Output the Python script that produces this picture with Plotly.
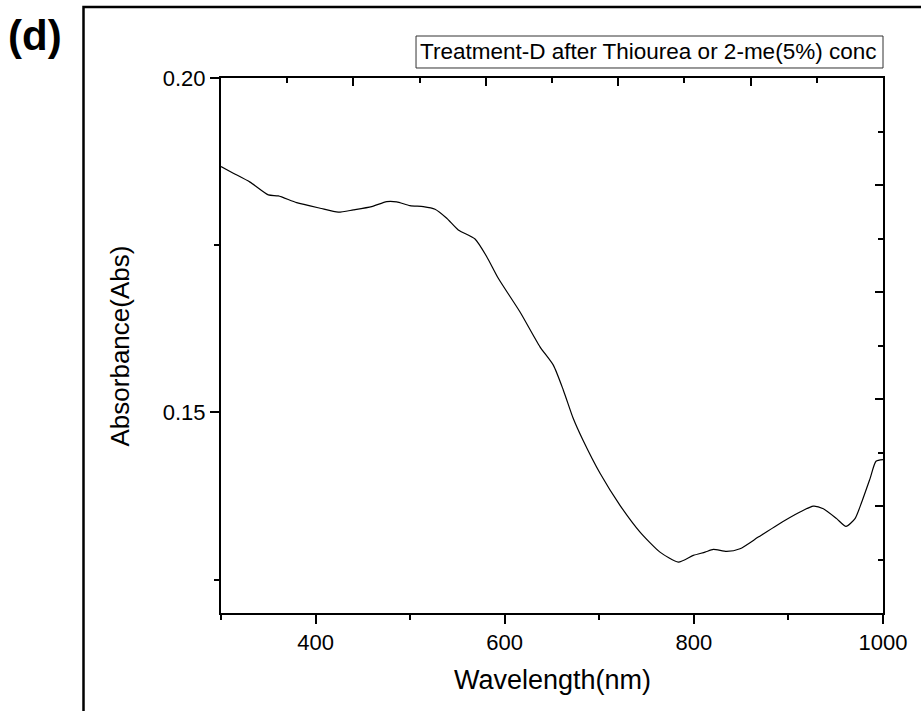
import plotly.graph_objects as go

# Data
wavelength_nm = [300.0, 313.0, 330.7, 350.0, 360.6, 380.0, 404.7, 424.0, 439.9, 459.3,
                 475.2, 485.8, 499.8, 513.9, 526.3, 538.7, 550.9, 568.6, 581.0, 593.2,
                 616.2, 637.3, 651.4, 662.0, 672.5, 682.8, 700.8, 721.9, 743.1, 764.2,
                 783.6, 799.4, 811.8, 820.6, 834.7, 848.8, 868.1, 887.6, 912.2, 926.3,
                 936.9, 951.0, 960.9, 970.4, 977.5, 986.3, 992.6, 1000.0]
absorbance = [0.18676, 0.18577, 0.18443, 0.18252, 0.18237, 0.18137, 0.18053, 0.17993, 0.18028, 0.18077,
              0.18152, 0.18148, 0.18092, 0.18077, 0.18038, 0.17903, 0.17728, 0.17593, 0.17328, 0.17005,
              0.16500, 0.15980, 0.15706, 0.15332, 0.14908, 0.14583, 0.14089, 0.13610, 0.13210, 0.12910,
              0.12761, 0.12861, 0.12910, 0.12951, 0.12921, 0.12961, 0.13135, 0.13310, 0.13509, 0.13599,
              0.13560, 0.13411, 0.13295, 0.13411, 0.13659, 0.14010, 0.14269, 0.14294]

x_tickvals = [400, 600, 800, 1000]
y_tickvals = [0.15, 0.20]
legend_text = "Treatment-D after Thiourea or 2-me(5%) conc"
x_title = "Wavelength(nm)"
y_title = "Absorbance(Abs)"
panel_label = "(d)"

FONT = "Liberation Sans, Arial, sans-serif"

fig = go.Figure()
fig.add_trace(go.Scatter(
    x=wavelength_nm, y=absorbance, mode="lines",
    line=dict(color="black", width=1.2, shape="spline", smoothing=0.6),
    showlegend=False, hoverinfo="skip",
))
# helper trace so that the mirrored (top/right) Origin-style axes are drawn
fig.add_trace(go.Scatter(x=[None], y=[None], xaxis="x2", yaxis="y2",
                         mode="lines", showlegend=False, hoverinfo="skip"))

tickfont = dict(family=FONT, size=22, color="black")

fig.update_layout(
    width=921, height=711,
    margin=dict(l=221, r=38, t=78, b=98),
    paper_bgcolor="white", plot_bgcolor="white",
    xaxis=dict(
        range=[300, 1000], tickmode="array", tickvals=x_tickvals,
        ticks="outside", ticklen=9, tickwidth=2, tickcolor="black",
        showline=True, linewidth=2, linecolor="black", mirror=False,
        showgrid=False, zeroline=False, tickfont=tickfont,
        minor=dict(tickmode="linear", tick0=300, dtick=100, ticks="outside",
                   ticklen=5, tickwidth=2, tickcolor="black", showgrid=False),
    ),
    yaxis=dict(
        range=[0.12, 0.20], tickmode="array", tickvals=y_tickvals, tickformat=".2f",
        ticks="outside", ticklen=9, tickwidth=2, tickcolor="black",
        showline=True, linewidth=2, linecolor="black", mirror=False,
        showgrid=False, zeroline=False, tickfont=tickfont,
        minor=dict(tickmode="linear", tick0=0.125, dtick=0.025, ticks="outside",
                   ticklen=5, tickwidth=2, tickcolor="black", showgrid=False),
    ),
    xaxis2=dict(
        overlaying="x", side="top", anchor="y2", range=[0, 10],
        tickmode="linear", tick0=0, dtick=2, ticks="inside", ticklen=8,
        tickwidth=2, tickcolor="black", showticklabels=False,
        showline=True, linewidth=2, linecolor="black",
        showgrid=False, zeroline=False,
        minor=dict(tickmode="linear", tick0=0, dtick=1, ticks="inside",
                   ticklen=5, tickwidth=2, tickcolor="black", showgrid=False),
    ),
    yaxis2=dict(
        overlaying="y", side="right", anchor="x2", range=[0, 10],
        tickmode="linear", tick0=0, dtick=2, ticks="inside", ticklen=8,
        tickwidth=2, tickcolor="black", showticklabels=False,
        showline=True, linewidth=2, linecolor="black",
        showgrid=False, zeroline=False,
        minor=dict(tickmode="linear", tick0=0, dtick=1, ticks="inside",
                   ticklen=5, tickwidth=2, tickcolor="black", showgrid=False),
    ),
)

# outer frame (extends beyond the image at right and bottom)
fig.add_shape(type="rect", xref="paper", yref="paper",
              x0=-0.2077, x1=1.2, y0=-0.4, y1=1.1327,
              line=dict(color="black", width=2.5), fillcolor="rgba(0,0,0,0)", layer="above")

# legend box
fig.add_shape(type="rect", xref="paper", yref="paper",
              x0=0.2946, x1=1.0, y0=1.0187, y1=1.0785,
              line=dict(color="#333333", width=1), fillcolor="white")
fig.add_annotation(xref="paper", yref="paper", x=0.2970, y=1.0486,
                   xanchor="left", yanchor="middle", showarrow=False,
                   text=legend_text, font=dict(family=FONT, size=22.5, color="black"))

# axis titles
fig.add_annotation(xref="paper", yref="paper", x=0.5, y=-0.125,
                   xanchor="center", yanchor="middle", showarrow=False,
                   text=x_title, font=dict(family=FONT, size=27, color="black"))
fig.add_annotation(xref="paper", yref="paper", x=-0.1526, y=0.5,
                   xanchor="center", yanchor="middle", showarrow=False, textangle=-90,
                   text=y_title, font=dict(family=FONT, size=26, color="black"))

# panel label
fig.add_annotation(xref="paper", yref="paper", x=-0.3245, y=1.08,
                   xanchor="left", yanchor="middle", showarrow=False,
                   text="<b>" + panel_label + "</b>", font=dict(family=FONT, size=42, color="black"))

fig.write_html("out.html")
